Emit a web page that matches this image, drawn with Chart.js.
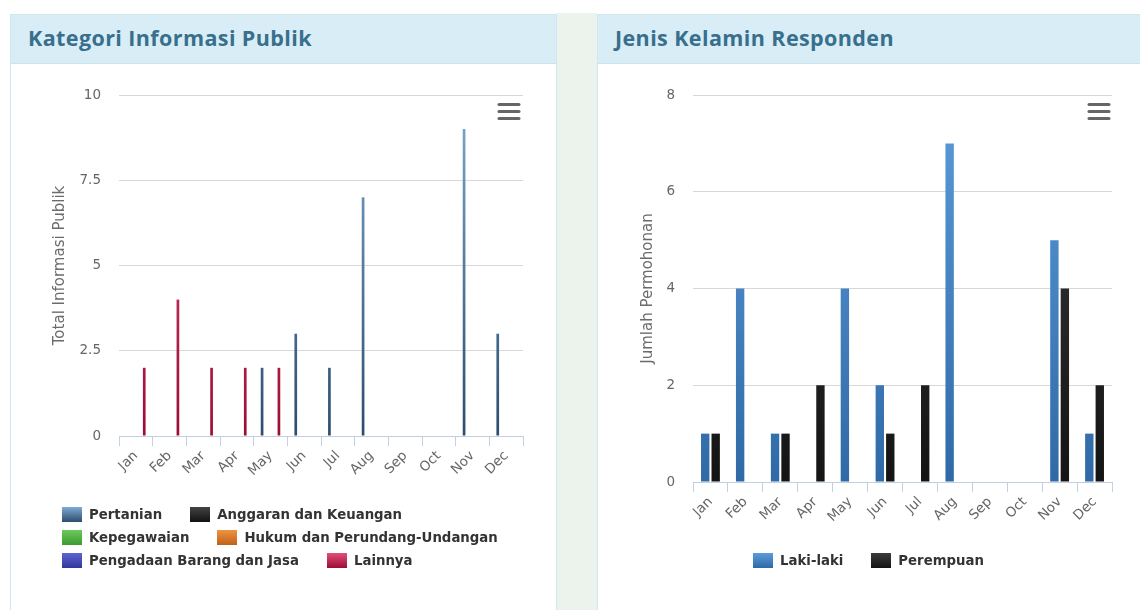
<!DOCTYPE html>
<html>
<head>
<meta charset="utf-8">
<script src="https://cdn.jsdelivr.net/npm/chart.js@4.4.1/dist/chart.umd.min.js"></script>
<style>
    body { margin: 0; width: 1140px; height: 610px; background: #fff; position: relative; overflow: hidden; font-family: "DejaVu Sans", sans-serif; }
    .gap { position: absolute; left: 556px; top: 13px; width: 41px; height: 600px; background: #ebf3ec; }
    .card { position: absolute; top: 14px; height: 620px; background: #fff; border: 1px solid #cfe7f0; box-sizing: border-box; }
    .card-head { height: 49px; background: #d9edf7; border-bottom: 1px solid #c9e3ef; box-sizing: border-box; }
    .card-head h3 { margin: 0; padding: 8px 0 0 17px; font: 700 21.5px "Open Sans", sans-serif; letter-spacing: 0.4px; color: #376f8c; }
    .chart-box { position: absolute; }
    .legend { position: absolute; display: flex; flex-wrap: wrap; column-gap: 28px; }
    .legend .item { display: flex; align-items: center; height: 23px; font: 700 13.3px "DejaVu Sans", sans-serif; color: #333; }
    .legend .swatch { width: 20px; height: 15px; margin-right: 7px; }
</style>
</head>
<body>
<div class="gap"></div>
<div class="card" style="left:10px; width:547px;">
    <div class="card-head"><h3>Kategori Informasi Publik</h3></div>
</div>
<div class="card" style="left:597px; width:560px;">
    <div class="card-head"><h3>Jenis Kelamin Responden</h3></div>
</div>
<div class="chart-box" style="left:11px; top:64px; width:544px; height:440px;"><canvas id="kategoriChart"></canvas></div>
<div class="legend" id="kategoriLegend" style="left:62px; top:503px; width:460px;"></div>
<div class="chart-box" style="left:598px; top:64px; width:542px; height:490px;"><canvas id="genderChart"></canvas></div>
<div class="legend" id="genderLegend" style="left:597px; top:549px; width:543px; justify-content:center;"></div>

<script>
const months = ['Jan', 'Feb', 'Mar', 'Apr', 'May', 'Jun', 'Jul', 'Aug', 'Sep', 'Oct', 'Nov', 'Dec'];

// Kategori Informasi Publik
const kategoriLabels = ['Pertanian', 'Anggaran dan Keuangan', 'Kepegawaian', 'Hukum dan Perundang-Undangan', 'Pengadaan Barang dan Jasa', 'Lainnya'];
const pertanian   = [0, 0, 0, 0, 2, 3, 2, 7, 0, 0, 9, 3];
const anggaran    = [0, 0, 0, 0, 0, 0, 0, 0, 0, 0, 0, 0];
const kepegawaian = [0, 0, 0, 0, 0, 0, 0, 0, 0, 0, 0, 0];
const hukum       = [0, 0, 0, 0, 0, 0, 0, 0, 0, 0, 0, 0];
const pengadaan   = [0, 0, 0, 0, 0, 0, 0, 0, 0, 0, 0, 0];
const lainnya     = [2, 4, 2, 2, 2, 0, 0, 0, 0, 0, 0, 0];
const kategoriTicks = [0, 2.5, 5, 7.5, 10];

// Jenis Kelamin Responden
const genderLabels = ['Laki-laki', 'Perempuan'];
const lakiLaki  = [1, 4, 1, 0, 4, 2, 0, 7, 0, 0, 5, 1];
const perempuan = [1, 0, 1, 2, 0, 1, 2, 0, 0, 0, 4, 2];
const genderTicks = [0, 2, 4, 6, 8];

// [top, bottom] gradient stops
const kategoriColors = [
    ['#7eaad2', '#2c4d6e'],
    ['#444444', '#111111'],
    ['#6cc95f', '#3c9a32'],
    ['#ee9440', '#c0601a'],
    ['#5f63d0', '#33379a'],
    ['#e0507a', '#9c0c36']
];
const genderColors = [
    ['#5c9cda', '#2f6aa6'],
    ['#3c3c3c', '#141414']
];

const tickFont = { family: '"DejaVu Sans", sans-serif', size: 13.5 };
const titleFont = { family: '"DejaVu Sans", sans-serif', size: 15 };

const vGrad = (top, bottom) => (ctx) => {
    const area = ctx.chart.chartArea;
    if (!area) return bottom;
    const g = ctx.chart.ctx.createLinearGradient(0, area.top, 0, area.bottom);
    g.addColorStop(0, top);
    g.addColorStop(1, bottom);
    return g;
};

const menuIcon = {
    id: 'menuIcon',
    afterDraw(chart, args, opts) {
        const { ctx, chartArea } = chart;
        const x = chartArea.right - opts.right;
        const y = chartArea.top + 9.5;
        ctx.save();
        ctx.strokeStyle = '#666';
        ctx.lineWidth = 3;
        ctx.lineCap = 'round';
        for (let i = 0; i < 3; i++) {
            ctx.beginPath();
            ctx.moveTo(x, y + i * 7);
            ctx.lineTo(x + 20, y + i * 7);
            ctx.stroke();
        }
        ctx.restore();
    }
};

function buildLegend(id, labels, colors) {
    const box = document.getElementById(id);
    labels.forEach((label, i) => {
        const item = document.createElement('div');
        item.className = 'item';
        const sw = document.createElement('span');
        sw.className = 'swatch';
        sw.style.background = 'linear-gradient(' + colors[i][0] + ', ' + colors[i][1] + ')';
        item.appendChild(sw);
        item.appendChild(document.createTextNode(label));
        box.appendChild(item);
    });
}

function makeChart(id, datasets, cfg) {
    return new Chart(document.getElementById(id), {
        type: 'bar',
        data: { labels: months, datasets: datasets },
        options: {
            responsive: true,
            maintainAspectRatio: false,
            animation: false,
            layout: { padding: { top: 31, right: cfg.padRight, left: 0, bottom: 0 } },
            datasets: { bar: { categoryPercentage: 0.6, barPercentage: 0.8 } },
            plugins: {
                legend: { display: false },
                tooltip: { enabled: false },
                menuIcon: { right: cfg.iconRight }
            },
            scales: {
                x: {
                    grid: { drawOnChartArea: false, drawTicks: true, tickLength: 10, color: '#c0d0e0', offset: true },
                    border: { color: '#c0d0e0' },
                    ticks: { color: '#666', font: tickFont, minRotation: 45, maxRotation: 45, padding: 2 },
                    afterFit: (s) => { s.height = cfg.xHeight; }
                },
                y: {
                    min: 0,
                    max: cfg.ticks[cfg.ticks.length - 1],
                    afterBuildTicks: (s) => { s.ticks = cfg.ticks.map(v => ({ value: v })); },
                    grid: { color: '#d8d8d8', drawTicks: false },
                    border: { display: false },
                    ticks: { color: '#666', font: tickFont, padding: 18, callback: (v) => String(v) },
                    title: { display: true, text: cfg.yTitle, color: '#6b6b6b', font: titleFont, padding: { top: cfg.titlePad } },
                    afterFit: (s) => { s.width = cfg.yWidth; }
                }
            }
        },
        plugins: [menuIcon]
    });
}

const kategoriData = [pertanian, anggaran, kepegawaian, hukum, pengadaan, lainnya];
makeChart('kategoriChart', kategoriLabels.map((label, i) => ({
    label: label,
    data: kategoriData[i],
    backgroundColor: vGrad(kategoriColors[i][0], kategoriColors[i][1])
})), {
    ticks: kategoriTicks, yTitle: 'Total Informasi Publik',
    yWidth: 108, xHeight: 68, padRight: 32, titlePad: 40, iconRight: 24
});

const genderData = [lakiLaki, perempuan];
makeChart('genderChart', genderLabels.map((label, i) => ({
    label: label,
    data: genderData[i],
    backgroundColor: vGrad(genderColors[i][0], genderColors[i][1])
})), {
    ticks: genderTicks, yTitle: 'Jumlah Permohonan',
    yWidth: 95, xHeight: 72, padRight: 28, titlePad: 41, iconRight: 23
});

buildLegend('kategoriLegend', kategoriLabels, kategoriColors);
buildLegend('genderLegend', genderLabels, genderColors);
</script>
</body>
</html>
